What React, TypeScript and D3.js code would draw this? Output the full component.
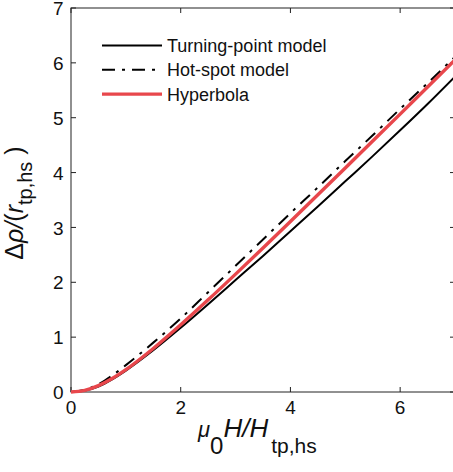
import React from "react";
import * as d3 from "d3";

const xs = [0, 0.25, 0.5, 0.75, 1, 1.5, 2, 2.5, 3, 3.5, 4, 4.5, 5, 5.5, 6, 6.5, 7];
const turningPoint = [0, 0.025, 0.1, 0.23, 0.39, 0.76, 1.17, 1.6, 2.04, 2.48, 2.93, 3.38, 3.84, 4.3, 4.77, 5.25, 5.75];
const hotSpot = [0, 0.04, 0.14, 0.3, 0.49, 0.9, 1.34, 1.82, 2.3, 2.78, 3.26, 3.73, 4.21, 4.68, 5.16, 5.63, 6.11];
const hyperbola = [0, 0.03, 0.116, 0.246, 0.408, 0.794, 1.225, 1.68, 2.149, 2.626, 3.108, 3.594, 4.083, 4.574, 5.066, 5.56, 6.054];
const xTicks = [0, 2, 4, 6];
const yTicks = [0, 1, 2, 3, 4, 5, 6, 7];
const legendLabels = ["Turning-point model", "Hot-spot model", "Hyperbola"];

const FONT = "'Liberation Sans', Arial, Helvetica, sans-serif";
const RED = "#e8474c";

export default function App() {
  const W = 453, H = 472;
  const left = 71, right = 455, top = 8, bottom = 392;
  const x = d3.scaleLinear().domain([0, 7]).range([left, right]);
  const y = d3.scaleLinear().domain([0, 7]).range([bottom, top]);
  const line = d3
    .line<number>()
    .x((_, i) => x(xs[i]))
    .y((d) => y(d))
    .curve(d3.curveMonotoneX);

  const series = [
    { data: turningPoint, color: "#000", width: 2, dash: undefined as string | undefined },
    { data: hotSpot, color: "#000", width: 2, dash: "13,7,3,7" },
    { data: hyperbola, color: RED, width: 3.4, dash: undefined as string | undefined },
  ];
  const tick = 5;

  return (
    <svg width={W} height={H} style={{ position: "absolute", left: 0, top: 0, background: "#fff" }}>
      <rect x={0} y={0} width={W} height={H} fill="#fff" />
      <defs>
        <clipPath id="clip">
          <rect x={left - 2} y={top} width={right - left + 4} height={bottom - top + 2} />
        </clipPath>
      </defs>
      {/* box */}
      <rect x={left} y={top} width={right - left} height={bottom - top} fill="none" stroke="#222" strokeWidth={1} />
      {/* x ticks */}
      {xTicks.map((t) => (
        <g key={"xt" + t}>
          <line x1={x(t)} x2={x(t)} y1={bottom} y2={bottom - tick} stroke="#222" />
          <line x1={x(t)} x2={x(t)} y1={top} y2={top + tick} stroke="#222" />
          <text x={x(t)} y={bottom + 21.5} textAnchor="middle" fontFamily={FONT} fontSize={19} fill="#111">
            {t}
          </text>
        </g>
      ))}
      {/* y ticks */}
      {yTicks.map((t) => (
        <g key={"yt" + t}>
          <line x1={left} x2={left + tick} y1={y(t)} y2={y(t)} stroke="#222" />
          <line x1={right} x2={right - tick} y1={y(t)} y2={y(t)} stroke="#222" />
          <text x={left - 7.5} y={y(t) + 7.2} textAnchor="end" fontFamily={FONT} fontSize={19} fill="#111">
            {t}
          </text>
        </g>
      ))}
      {/* curves */}
      <g clipPath="url(#clip)">
        {series.map((s, i) => (
          <path
            key={i}
            d={line(s.data) || ""}
            fill="none"
            stroke={s.color}
            strokeWidth={s.width}
            strokeDasharray={s.dash}
          />
        ))}
      </g>
      {/* legend */}
      {series.map((s, i) => {
        const ly = 45.5 + i * 24.3;
        return (
          <g key={"lg" + i}>
            <line x1={102} x2={162} y1={ly} y2={ly} stroke={s.color} strokeWidth={s.width} strokeDasharray={s.dash} />
            <text x={167} y={ly + 6.5} fontFamily={FONT} fontSize={18} fill="#111">
              {legendLabels[i]}
            </text>
          </g>
        );
      })}
      {/* x label */}
      <text x={198} y={437} fontFamily={FONT} fontSize={26} fill="#111">
        <tspan fontSize={22} fontStyle="italic">μ</tspan>
        <tspan fontSize={24} dy={17}>0</tspan>
        <tspan fontStyle="italic" dy={-17}>H</tspan>
        <tspan fontStyle="italic">/</tspan>
        <tspan fontStyle="italic">H</tspan>
        <tspan fontSize={21} dx={3} dy={16}>tp,hs</tspan>
      </text>
      {/* y label */}
      <text
        transform="translate(23,203) rotate(-90)"
        textAnchor="middle"
        fontFamily={FONT}
        fontSize={25}
        fill="#111"
      >
        <tspan>Δ</tspan>
        <tspan fontStyle="italic">ρ</tspan>
        <tspan fontStyle="italic">/</tspan>
        <tspan>(</tspan>
        <tspan fontStyle="italic">r</tspan>
        <tspan fontSize={20} dy={9}>tp,hs</tspan>
        <tspan dy={-9}> )</tspan>
      </text>
    </svg>
  );
}
